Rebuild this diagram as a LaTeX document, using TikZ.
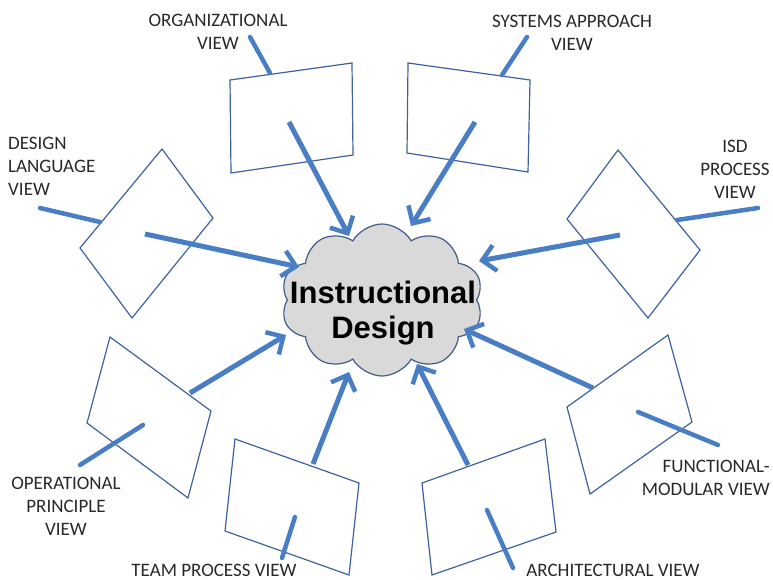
\documentclass[tikz,border=0pt]{standalone}
\usepackage{fontspec}
\setmainfont{Carlito}
\newfontfamily\cloudfont{Liberation Sans}
\usetikzlibrary{shapes.symbols,arrows.meta}

\definecolor{arrowblue}{RGB}{74,126,196}
\definecolor{boxblue}{RGB}{62,98,160}
\definecolor{cloudgray}{RGB}{217,217,217}
\definecolor{cloudline}{RGB}{66,92,138}
\definecolor{labelgray}{RGB}{40,40,40}

\tikzset{
  viewbox/.style={draw=boxblue, line width=1.2pt, line join=miter},
  feed/.style={arrowblue, line width=5pt, -{Straight Barb[length=13pt,width=26pt,line width=4.5pt]}},
  tie/.style={arrowblue, line width=4.5pt, line cap=round},
  viewlabel/.style={text=labelgray, font=\fontsize{19}{23}\selectfont, inner sep=0pt},
}

\begin{document}
\begin{tikzpicture}[x=1pt,y=-1pt]
      \useasboundingbox (0,0) rectangle (773,580);
      % central cloud
      \node[cloud, cloud puffs=10, cloud puff arc=120, aspect=1.4,
            minimum width=202pt, minimum height=152pt, fill=cloudgray,
            draw=cloudline, line width=1.2pt] (id) at (382,300) {};
      \node[align=center, inner sep=0pt,
            font=\cloudfont\bfseries\fontsize{31}{35}\selectfont] (idtext) at (383,313)
            {Instructional\\Design};

      % the eight views
      \draw[viewbox] (230,80) -- (352,63) -- (353,155) -- (231,173) -- cycle;
      \draw[viewbox] (408,63) -- (530,80) -- (528,172) -- (407,153) -- cycle;
      \draw[viewbox] (162,149) -- (213,218) -- (132,318) -- (80,248) -- cycle;
      \draw[viewbox] (618,150) -- (700,250) -- (648,318) -- (567,219) -- cycle;
      \draw[viewbox] (110,337) -- (211,411) -- (188,498) -- (87,423) -- cycle;
      \draw[viewbox] (668,335) -- (692,422) -- (590,494) -- (567,407) -- cycle;
      \draw[viewbox] (235,439) -- (359,483) -- (349,575) -- (225,531) -- cycle;
      \draw[viewbox] (422,483) -- (545,439) -- (556,532) -- (432,575) -- cycle;

      % labels
      \node[viewlabel, align=center] (org) at (218,32) {ORGANIZATIONAL\\VIEW};
      \node[viewlabel, align=center] (sys) at (572,33) {SYSTEMS APPROACH\\VIEW};
      \node[viewlabel, align=left, anchor=west] (dl) at (8,166) {DESIGN\\LANGUAGE\\VIEW};
      \node[viewlabel, align=center] (isd) at (735,169) {ISD\\PROCESS\\VIEW};
      \node[viewlabel, align=center] (op) at (66,506) {OPERATIONAL\\PRINCIPLE\\VIEW};
      \node[viewlabel, align=right, anchor=east] (fm) at (770,478) {FUNCTIONAL-\\MODULAR VIEW};
      \node[viewlabel] (tp) at (214,570) {TEAM PROCESS VIEW};
      \node[viewlabel] (arch) at (613,570) {ARCHITECTURAL VIEW};

      % label ties
      \coordinate (org-a) at (250,37);  \coordinate (org-b) at (270,73);
      \coordinate (sys-a) at (527,37);  \coordinate (sys-b) at (502,75);
      \coordinate (dl-a) at (40,208);   \coordinate (dl-b) at (100,222);
      \coordinate (isd-a) at (758,208); \coordinate (isd-b) at (677,220);
      \coordinate (op-a) at (80,465);   \coordinate (op-b) at (143,425);
      \coordinate (fm-a) at (718,445);  \coordinate (fm-b) at (638,412);
      \coordinate (tp-a) at (282,558);  \coordinate (tp-b) at (295,517);
      \coordinate (arch-a) at (513,568); \coordinate (arch-b) at (487,510);
      \foreach \v in {org,sys,dl,isd,op,fm,tp,arch}
        \draw[tie] (\v-a) -- (\v-b);

      % arrows into the cloud
      \coordinate (org-s) at (289,122);  \coordinate (org-t) at (349,236);
      \coordinate (sys-s) at (475,122);  \coordinate (sys-t) at (411,226);
      \coordinate (dl-s) at (145,234);   \coordinate (dl-t) at (299,267);
      \coordinate (isd-s) at (620,235);  \coordinate (isd-t) at (479,261);
      \coordinate (op-s) at (190,393);   \coordinate (op-t) at (286,335);
      \coordinate (fm-s) at (593,388);   \coordinate (fm-t) at (464,329);
      \coordinate (tp-s) at (313,464);   \coordinate (tp-t) at (349,372);
      \coordinate (arch-s) at (468,465); \coordinate (arch-t) at (417,364);
      \foreach \v in {org,sys,dl,isd,op,fm,tp,arch}
        \draw[feed] (\v-s) -- (\v-t);
\end{tikzpicture}
\end{document}
